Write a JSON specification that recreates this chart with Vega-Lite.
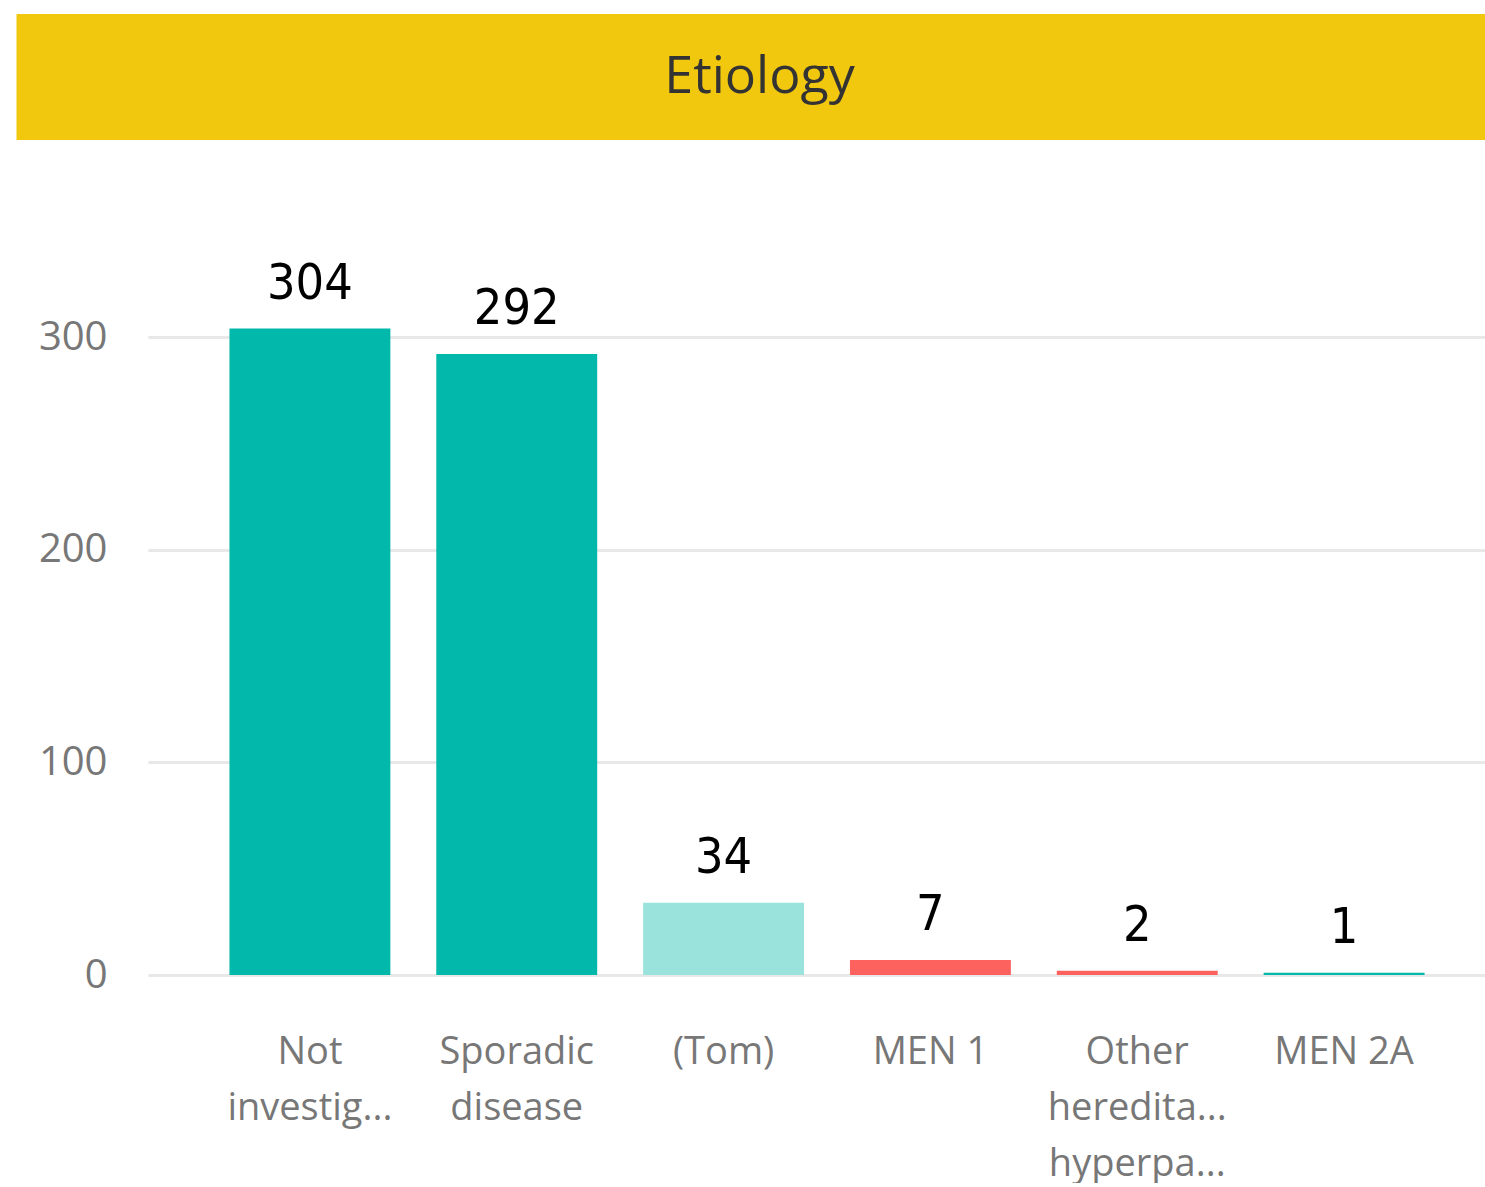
{
  "$schema": "https://vega.github.io/schema/vega-lite/v6.json",
  "padding": {"left": 17, "top": 14, "right": 0, "bottom": 0},
  "background": "white",
  "spacing": 27,
  "config": {"view": {"stroke": null}},
  "vconcat": [
    {
      "width": 1337,
      "height": 126,
      "view": {"fill": "#F2C80F", "stroke": null},
      "data": {"values": [{"title": "Etiology"}]},
      "mark": {"type": "text", "font": "Open Sans", "fontSize": 52, "color": "#333333", "baseline": "middle", "align": "center", "dx": -57},
      "encoding": {
        "text": {"field": "title", "type": "nominal"},
        "y": {
          "field": "title", "type": "nominal",
          "axis": {"title": null, "labels": false, "ticks": false, "grid": false, "domain": true, "domainColor": "#F2C80F", "domainWidth": 263, "translate": 0}
        }
      }
    },
    {
      "width": 1337,
      "height": 808,
      "data": {"values": [
        {"etiology": "Not investig...", "count": 304},
        {"etiology": "Sporadic disease", "count": 292},
        {"etiology": "(Tom)", "count": 34},
        {"etiology": "MEN 1", "count": 7},
        {"etiology": "Other heredita... hyperpa...", "count": 2},
        {"etiology": "MEN 2A", "count": 1}
      ]},
      "encoding": {
        "x": {
          "field": "etiology", "type": "nominal", "sort": null,
          "scale": {"paddingInner": 0.222, "paddingOuter": 0.343, "align": 0.574},
          "axis": {
            "title": null, "domain": false, "ticks": false, "tickSize": 0, "grid": false,
            "labelAngle": 0, "labelPadding": 58, "labelFont": "Open Sans", "labelFontSize": 38,
            "labelColor": "#777777", "labelLineHeight": 56, "labelLimit": 0,
            "labelExpr": "(datum.value == 'MEN 1' || datum.value == 'MEN 2A' || datum.value == '(Tom)') ? datum.value : split(datum.value, ' ')"
          }
        },
        "y": {
          "field": "count", "type": "quantitative",
          "scale": {"domain": [0, 380], "nice": false},
          "axis": {
            "title": null, "domain": false, "ticks": false, "tickSize": 0,
            "values": [0, 100, 200, 300], "labelPadding": 41, "minExtent": 131,
            "labelFont": "Open Sans", "labelFontSize": 40, "labelColor": "#777777",
            "gridColor": "#E8E8E8", "gridWidth": 3
          }
        }
      },
      "layer": [
        {
          "mark": {"type": "bar"},
          "encoding": {
            "color": {
              "field": "etiology", "type": "nominal", "legend": null,
              "scale": {
                "domain": ["Not investig...", "Sporadic disease", "(Tom)", "MEN 1", "Other heredita... hyperpa...", "MEN 2A"],
                "range": ["#01B8AA", "#01B8AA", "#99E3DC", "#FD625E", "#FD625E", "#01B8AA"]
              }
            }
          }
        },
        {
          "mark": {"type": "text", "dy": -30, "baseline": "alphabetic", "align": "center", "font": "DejaVu Sans Condensed, Roboto", "fontSize": 50, "color": "#000000"},
          "encoding": {"text": {"field": "count", "type": "quantitative"}}
        }
      ]
    }
  ]
}
